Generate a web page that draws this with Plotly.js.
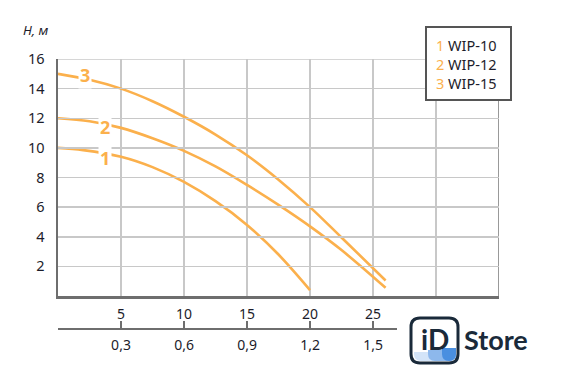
<!DOCTYPE html>
<html>
<head>
<meta charset="utf-8">
<script src="https://cdn.plot.ly/plotly-3.0.1.min.js"></script>
<style>html,body{margin:0;padding:0;background:#fff;}#chart{width:581px;height:376px;}</style>
</head>
<body>
<div id="chart"></div>
<script>
// Flow Q, m3/h and head H, m
const q1 = [0, 2, 5, 7.5, 10, 12.5, 15, 17.5, 20];
const h1 = [10, 9.85, 9.4, 8.7, 7.7, 6.4, 4.8, 2.8, 0.4];
const q2 = [0, 2.5, 5, 7.5, 10, 12.5, 15, 17.5, 20, 22.5, 26];
const h2 = [12, 11.8, 11.35, 10.65, 9.8, 8.75, 7.5, 6.15, 4.7, 3.1, 0.55];
const q3 = [0, 2.5, 5, 7.5, 10, 12.5, 15, 17.5, 20, 22.5, 26];
const h3 = [15, 14.6, 14.0, 13.15, 12.1, 10.9, 9.5, 7.85, 6.0, 3.95, 1.05];

const seriesNums = ['1', '2', '3'];
const seriesNames = ['WIP-10', 'WIP-12', 'WIP-15'];

const xTickVals = [5, 10, 15, 20, 25, 30, 35];
const xTickText = ['5', '10', '15', '20', '25', '', ''];
const yTickVals = [2, 4, 6, 8, 10, 12, 14, 16];
const yTickText = ['2', '4', '6', '8', '10', '12', '14', '16'];
const x2TickVals = [0, 0.3, 0.6, 0.9, 1.2, 1.5];
const x2TickText = ['', '0,3', '0,6', '0,9', '1,2', '1,5'];

// label positions on curves (x in m3/h)
const labelX = [3.73, 3.73, 2.14];
const labelShift = [-4, -3, 4];

const ORANGE = '#FBB04C';
const DARK = '#1c1c2a';
const FONT = 'Noto Sans, Open Sans, sans-serif';

// layout pixel helpers
const W = 581, H = 376, L = 58, R = 499, T = 59, B = 329;
const fx = px => (px - L) / (R - L);
const fy = py => (B - py) / (B - T);

function interp(xs, ys, x) {
  for (let i = 0; i < xs.length - 1; i++) {
    if (x >= xs[i] && x <= xs[i + 1]) {
      const t = (x - xs[i]) / (xs[i + 1] - xs[i]);
      return ys[i] + t * (ys[i + 1] - ys[i]);
    }
  }
  return ys[ys.length - 1];
}

const qs = [q1, q2, q3], hs = [h1, h2, h3];
const traces = qs.map((q, i) => ({
  x: q, y: hs[i], type: 'scatter', mode: 'lines',
  line: {color: ORANGE, width: 2.6, shape: 'spline', smoothing: 1},
  hoverinfo: 'skip', showlegend: false
}));
traces.push({x: [0], y: [null], xaxis: 'x2', yaxis: 'y', type: 'scatter', mode: 'lines', hoverinfo: 'skip', showlegend: false});

const annotations = [];
qs.forEach((q, i) => {
  annotations.push({
    x: labelX[i], y: interp(q, hs[i], labelX[i]), xref: 'x', yref: 'y',
    text: '<b>' + seriesNums[i] + '</b>', showarrow: false,
    font: {family: FONT, size: 18, color: ORANGE},
    bgcolor: '#ffffff', borderpad: 1, yshift: labelShift[i]
  });
});
// legend text
annotations.push({
  x: fx(434), y: fy(64), xref: 'paper', yref: 'paper', xanchor: 'left', yanchor: 'middle', align: 'left',
  text: seriesNames.map((n, i) => '<span style="color:' + ORANGE + '">' + seriesNums[i] + '</span> ' + n).join('<br>'),
  showarrow: false, font: {family: FONT, size: 14.5, color: DARK}
});
// y title
annotations.push({
  x: fx(36), y: fy(30), xref: 'paper', yref: 'paper', xanchor: 'center', yanchor: 'middle',
  text: '<i>H, м</i>', showarrow: false, font: {family: FONT, size: 13, color: DARK}
});
// logo texts
annotations.push({
  x: fx(434.5), y: fy(339), xref: 'paper', yref: 'paper', xanchor: 'center', yanchor: 'middle',
  text: '<b>iD</b>', showarrow: false, font: {family: 'Lato, Noto Sans, sans-serif', size: 28, color: '#1a2a3a'}
});
annotations.push({
  x: fx(462), y: fy(339), xref: 'paper', yref: 'paper', xanchor: 'left', yanchor: 'middle',
  text: '<b>Store</b>', showarrow: false, font: {family: 'Lato, Noto Sans, sans-serif', size: 27, color: '#1a2a3a'}
});

function roundRect(x0, y0, x1, y1, r) {
  const X = fx, Y = fy;
  return `M ${X(x0 + r)} ${Y(y0)} L ${X(x1 - r)} ${Y(y0)} Q ${X(x1)} ${Y(y0)} ${X(x1)} ${Y(y0 + r)} ` +
    `L ${X(x1)} ${Y(y1 - r)} Q ${X(x1)} ${Y(y1)} ${X(x1 - r)} ${Y(y1)} L ${X(x0 + r)} ${Y(y1)} ` +
    `Q ${X(x0)} ${Y(y1)} ${X(x0)} ${Y(y1 - r)} L ${X(x0)} ${Y(y0 + r)} Q ${X(x0)} ${Y(y0)} ${X(x0 + r)} ${Y(y0)} Z`;
}
function bottomBand(x0, yTop, x1, y1, r) {
  const X = fx, Y = fy;
  return `M ${X(x0)} ${Y(yTop)} L ${X(x1)} ${Y(yTop)} L ${X(x1)} ${Y(y1 - r)} Q ${X(x1)} ${Y(y1)} ${X(x1 - r)} ${Y(y1)} ` +
    `L ${X(x0 + r)} ${Y(y1)} Q ${X(x0)} ${Y(y1)} ${X(x0)} ${Y(y1 - r)} Z`;
}

const shapes = [
  // right border & top border
  {type: 'line', xref: 'x', yref: 'y', x0: 35, x1: 35, y0: 0, y1: 16, line: {color: '#999999', width: 2}, layer: 'below'},
  {type: 'line', xref: 'x', yref: 'y', x0: 0, x1: 35, y0: 16, y1: 16, line: {color: '#c8c8c8', width: 1.5}, layer: 'below'},
  // legend box
  {type: 'rect', xref: 'paper', yref: 'paper', x0: fx(426), x1: fx(511), y0: fy(27), y1: fy(100),
   fillcolor: '#ffffff', line: {color: '#555555', width: 2}, layer: 'above'},
  // logo
  {type: 'path', xref: 'paper', yref: 'paper', path: roundRect(411, 318, 458, 363, 9), fillcolor: '#ffffff', line: {width: 0}},
  {type: 'path', xref: 'paper', yref: 'paper', path: bottomBand(414, 352, 456, 361, 7), fillcolor: '#d3e4f8', line: {width: 0}},
  {type: 'path', xref: 'paper', yref: 'paper', path: bottomBand(428, 350, 456, 361, 7), fillcolor: '#8db8ec', line: {width: 0}},
  {type: 'path', xref: 'paper', yref: 'paper', path: bottomBand(442, 348, 456, 361, 7), fillcolor: '#4a8fe0', line: {width: 0}},
  {type: 'path', xref: 'paper', yref: 'paper', path: roundRect(411, 318, 458, 363, 9), fillcolor: 'rgba(0,0,0,0)', line: {color: '#1a2a3a', width: 3}}
];

const layout = {
  width: W, height: H,
  margin: {l: L, r: W - R, t: T, b: H - B, pad: 0},
  paper_bgcolor: '#ffffff', plot_bgcolor: 'rgba(0,0,0,0)',
  showlegend: false,
  font: {family: FONT, color: DARK, size: 13},
  xaxis: {
    range: [0, 35], domain: [0, 1], anchor: 'y',
    tickvals: xTickVals, ticktext: xTickText, ticks: '', ticklabelstandoff: 4,
    showgrid: true, gridcolor: '#c8c8c8', gridwidth: 1.5,
    showline: true, linecolor: '#6e6e6e', linewidth: 2.5, zeroline: false,
    tickfont: {family: FONT, size: 14, color: DARK}, fixedrange: true
  },
  xaxis2: {
    range: [0, 1.614], domain: [0, fx(397)], anchor: 'free', position: 0, side: 'bottom',
    tickvals: x2TickVals, ticktext: x2TickText, ticks: 'inside', ticklen: 7, tickwidth: 2, tickcolor: '#6e6e6e',
    showgrid: false, showline: true, linecolor: '#6e6e6e', linewidth: 2, zeroline: false,
    tickfont: {family: FONT, size: 14, color: DARK}, ticklabelstandoff: 3, fixedrange: true
  },
  yaxis: {
    range: [0, 16], domain: [fy(296), 1],
    tickvals: yTickVals, ticktext: yTickText, ticks: '', ticklabelstandoff: 8,
    showgrid: true, gridcolor: '#c8c8c8', gridwidth: 1.5,
    showline: true, linecolor: '#6e6e6e', linewidth: 2.5, zeroline: false,
    tickfont: {family: FONT, size: 14.5, color: DARK}, fixedrange: true
  },
  annotations: annotations,
  shapes: shapes
};

Plotly.newPlot('chart', traces, layout, {displayModeBar: false, staticPlot: true});
</script>
</body>
</html>
